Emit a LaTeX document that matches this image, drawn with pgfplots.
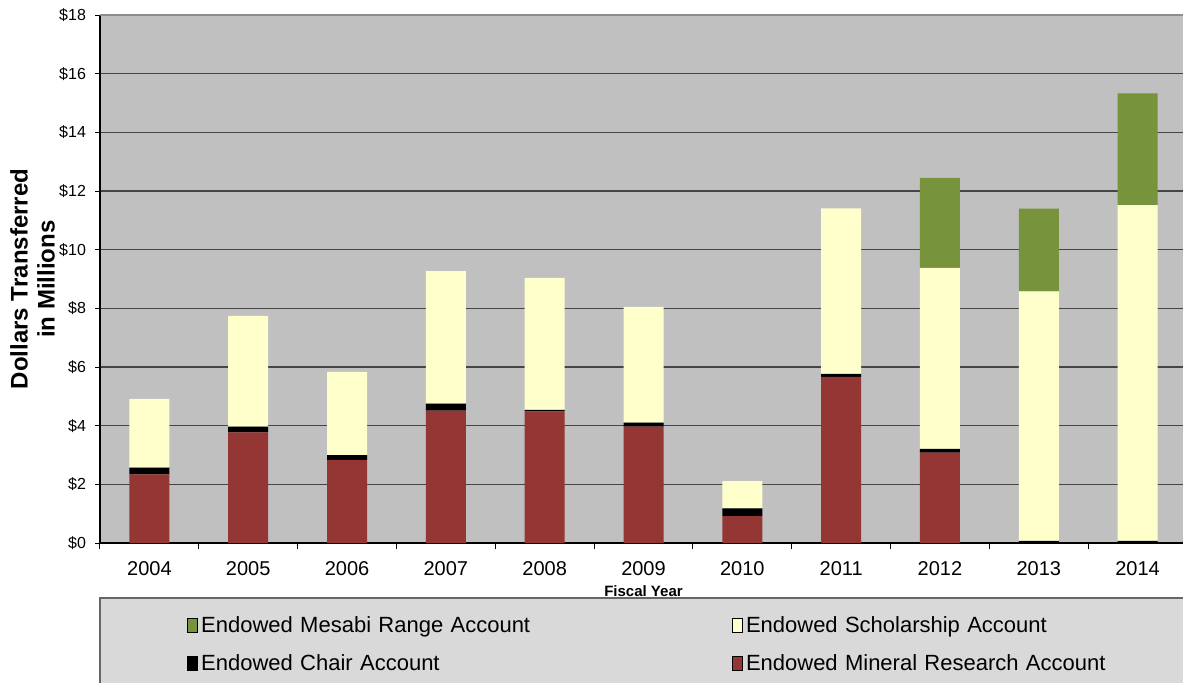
\documentclass[border=0pt]{standalone}
\usepackage{pgfplots}
\pgfplotsset{compat=1.18}
\usepackage{pgfplotstable}
\usepackage{fontspec}
\setmainfont{Liberation Sans}
\definecolor{cred}{HTML}{943634}
\definecolor{cyel}{HTML}{FFFFCC}
\definecolor{cgrn}{HTML}{77933C}
\definecolor{cbg}{HTML}{C0C0C0}
\definecolor{clg}{HTML}{D9D9D9}
\definecolor{cgrid}{HTML}{454545}
\pgfplotstableread{
idx mineral chair scholar mesabi
0 2.34 0.23 2.34 0
1 3.77 0.20 3.77 0
2 2.83 0.17 2.83 0
3 4.51 0.24 4.52 0
4 4.49 0.05 4.50 0
5 3.97 0.13 3.95 0
6 0.92 0.26 0.93 0
7 5.66 0.11 5.64 0
8 3.08 0.13 6.17 3.07
9 0 0.07 8.51 2.82
10 0 0.07 11.45 3.81
}\datatable
\begin{document}
\begin{tikzpicture}
% legend box background
\fill[clg, draw=black!60, line width=0.6pt] (0pt,-27.5pt) rectangle (560pt,-90pt);
\begin{axis}[
  at={(0,0)}, anchor=south west,
  scale only axis,
  width=543.5pt, height=264pt,
  xmin=-0.5, xmax=10.5,
  ymin=0, ymax=18,
  ybar stacked, bar width=20pt,
  axis background/.style={fill=cbg},
  axis x line*=bottom, axis y line*=left,
  axis line style={black, line width=0.8pt},
  xtick={0,...,10},
  xticklabels={2004,2005,2006,2007,2008,2009,2010,2011,2012,2013,2014},
  major x tick style={draw=none},
  minor xtick={-0.5,0.5,...,10.5},
  minor tick length=3pt,
  major tick length=2.5pt,
  tick align=outside,
  tick style={black, line width=0.5pt},
  ytick={0,2,...,18},
  yticklabel={\$\pgfmathprintnumber{\tick}},
  /pgf/number format/assume math mode=true,
  yticklabel style={font=\fontsize{8}{9}\selectfont, xshift=-1pt},
  xticklabel style={font=\fontsize{10}{12}\selectfont, yshift=-3pt},
  ymajorgrids,
  grid style={cgrid, line width=0.6pt},
  extra y ticks={18},
  extra y tick labels={},
  extra y tick style={grid style={black!45, line width=1.2pt}, major tick length=2.5pt},
  xlabel={Fiscal Year},
  xlabel style={font=\fontsize{7.5}{9}\selectfont\bfseries, yshift=1.5pt},
  ylabel={Dollars Transferred\\in Millions},
  ylabel style={font=\fontsize{12}{13.5}\selectfont\bfseries, align=center,
    at={(axis description cs:0,0.5)}, anchor=south, yshift=19pt},
  clip=false,
  legend columns=2,
  legend cell align=left,
  legend style={at={(40.5pt,-32.5pt)}, anchor=north west, draw=none, fill=none,
    font=\fontsize{11}{13}\selectfont, row sep=5.5pt,
    nodes={text width=264pt, inner xsep=1.5pt}},
  legend image code/.code={\fill[#1] (0pt,-3.5pt) rectangle (5pt,3.5pt);},
]
\addlegendimage{fill=cgrn}
\addlegendentry{Endowed Mesabi Range Account}
\addlegendimage{fill=cyel}
\addlegendentry{Endowed Scholarship Account}
\addlegendimage{fill=black}
\addlegendentry{Endowed Chair Account}
\addlegendimage{fill=cred}
\addlegendentry{Endowed Mineral Research Account}
\addplot[fill=cred, draw=none, forget plot] table[x=idx, y=mineral] {\datatable};
\addplot[fill=black, draw=none, forget plot] table[x=idx, y=chair] {\datatable};
\addplot[fill=cyel, draw=none, forget plot] table[x=idx, y=scholar] {\datatable};
\addplot[fill=cgrn, draw=none, forget plot] table[x=idx, y=mesabi] {\datatable};
\end{axis}
\pgfresetboundingbox
\path[use as bounding box] (-50pt,-69.5pt) rectangle (541.5pt,271.5pt);
\end{tikzpicture}
\end{document}
